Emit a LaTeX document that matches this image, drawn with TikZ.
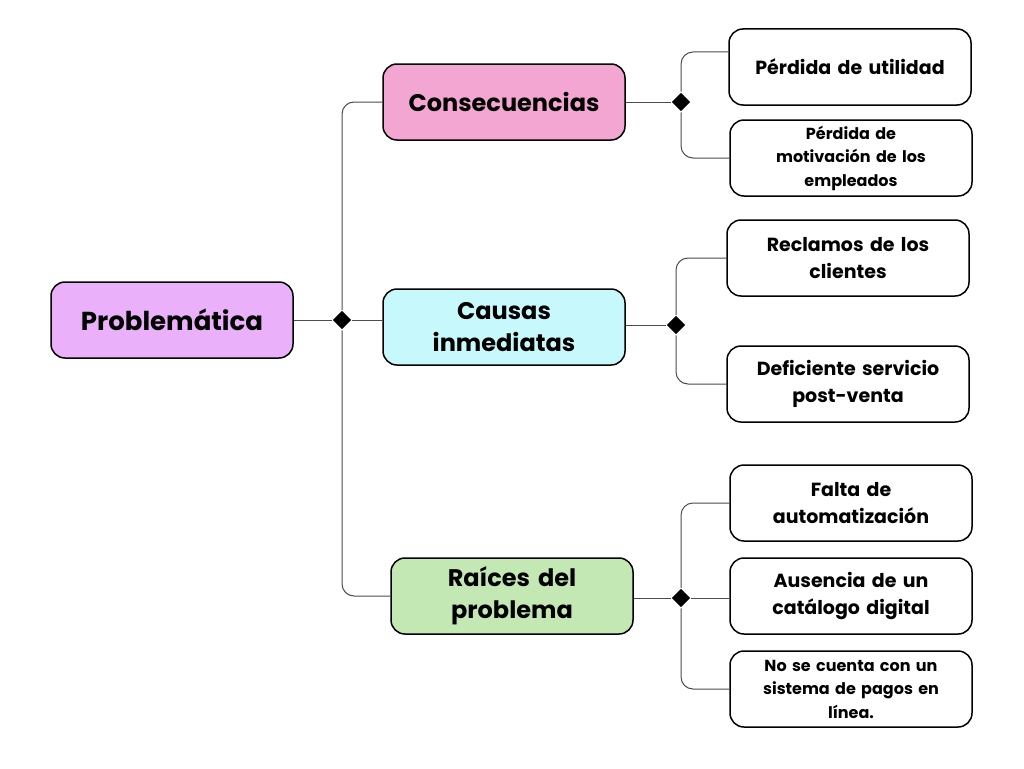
\documentclass[tikz,border=0pt]{standalone}
\usepackage{fontspec}
\setmainfont{Poppins}
\usepackage{tikz}
\usetikzlibrary{positioning, shapes.geometric}
\definecolor{rootviolet}{RGB}{235,176,250}
\definecolor{conspink}{RGB}{243,166,210}
\definecolor{causcyan}{RGB}{198,248,252}
\definecolor{raicgreen}{RGB}{195,232,180}
\tikzstyle{branch} = [draw=black!70, line width=1pt, rounded corners=12pt]
\tikzstyle{joint} = [diamond, sharp corners, fill=black, draw=none, text width=0pt, minimum size=19pt, minimum width=19pt, minimum height=19pt, inner sep=0pt]
\tikzstyle{bigtext} = [font=\bfseries\fontsize{24}{32}\selectfont]
\tikzstyle{leaftext} = [font=\bfseries\fontsize{19}{27}\selectfont]
\tikzstyle{smalltext} = [font=\bfseries\fontsize{16}{23.5}\selectfont]

\begin{document}
\begin{tikzpicture}[
        x=1pt, y=-1pt,
        every node/.style={rounded corners=14pt, draw, line width=1.5pt, minimum width=242pt, minimum height=76pt, text width=225pt, align=center}
    ]
        \useasboundingbox[fill=white] (0,0) rectangle (1024,768);

        % Main boxes
        \node[fill=rootviolet, font=\bfseries\fontsize{26}{30}\selectfont] (root) at (172,320) {Problemática};
        \node[fill=conspink, bigtext] (cons) at (504,102) {Consecuencias};
        \node[fill=causcyan, bigtext] (caus) at (504,327) {Causas\\inmediatas};
        \node[fill=raicgreen, bigtext] (raic) at (512,596) {Raíces del\\problema};

        % Leaves
        \node[leaftext] (util) at (850,67) {Pérdida de utilidad};
        \node[smalltext] (motiv) at (851,158) {Pérdida de\\motivación de los\\empleados};
        \node[leaftext] (recl) at (848,258) {Reclamos de los\\clientes};
        \node[leaftext] (defic) at (848,384) {Deficiente servicio\\post-venta};
        \node[leaftext] (falta) at (851,503) {Falta de\\automatización};
        \node[leaftext] (ausen) at (851,596) {Ausencia de un\\catálogo digital};
        \node[smalltext] (pagos) at (851,689) {No se cuenta con un\\sistema de pagos en\\línea.};

        % Junctions
        \node[joint] (jroot) at (342,320) {};
        \node[joint] (jcons) at (681,102) {};
        \node[joint] (jcaus) at (676,325) {};
        \node[joint] (jraic) at (681,598) {};

        % Connectors
        \draw[branch] (root) -- (jroot);
        \draw[branch] (jroot) |- (cons);
        \draw[branch] (jroot) -- (jroot -| caus.west);
        \draw[branch] (jroot) |- (raic);

        \draw[branch] (cons) -- (jcons);
        \draw[branch] (jcons) |- ([yshift=15pt]util.west);
        \draw[branch] (jcons) |- (motiv);

        \draw[branch] (caus.east |- jcaus) -- (jcaus);
        \draw[branch] (jcaus) |- (recl);
        \draw[branch] (jcaus) |- (defic);

        \draw[branch] (raic.east |- jraic) -- (jraic);
        \draw[branch] (jraic) |- (falta);
        \draw[branch] (jraic) -- (jraic -| ausen.west);
        \draw[branch] (jraic) |- (pagos);
    \end{tikzpicture}
\end{document}
